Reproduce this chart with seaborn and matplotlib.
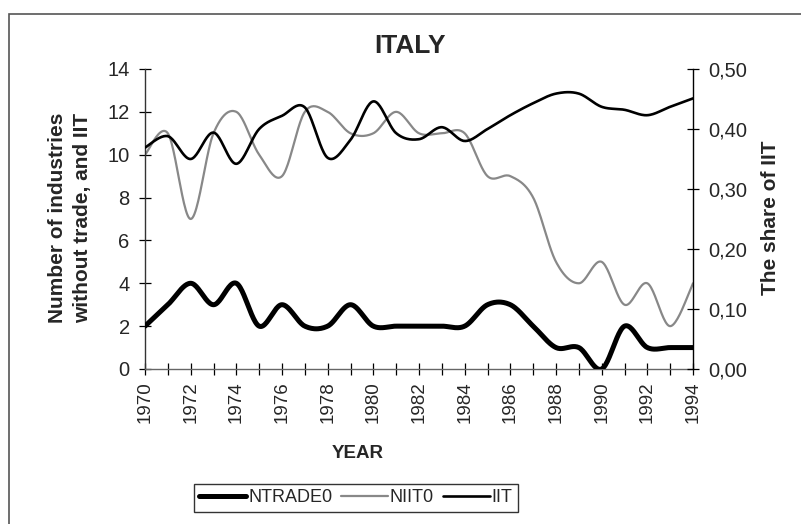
import numpy as np
import pandas as pd
import matplotlib
matplotlib.use("Agg")
import matplotlib.pyplot as plt
import seaborn as sns
from matplotlib.lines import Line2D
from matplotlib.patches import Rectangle
from matplotlib.ticker import FuncFormatter, MultipleLocator

years = list(range(1970, 1995))
ntrade0 = [2, 3, 4, 3, 4, 2, 3, 2, 2, 3, 2, 2, 2, 2, 2, 3, 3, 2, 1, 1, 0, 2, 1, 1, 1]
niit0 = [10, 11, 7, 11, 12, 10, 9, 12, 12, 11, 11, 12, 11, 11, 11, 9, 9, 8, 5, 4, 5, 3, 4, 2, 4]
iit = [0.369, 0.388, 0.350, 0.394, 0.342, 0.400, 0.422, 0.436, 0.352, 0.382, 0.446,
       0.393, 0.383, 0.403, 0.380, 0.400, 0.423, 0.443, 0.459, 0.459, 0.437, 0.432,
       0.423, 0.437, 0.451]
left_label = "Number of industries\nwithout trade, and IIT"
right_label = "The share of IIT"
x_label = "YEAR"
title = "ITALY"


def smooth(xs, ys, steps=24):
    """Excel-like smoothed line: Catmull-Rom cubic Bezier through the data points."""
    x = np.asarray(xs, float)
    y = np.asarray(ys, float)
    px = np.concatenate([[x[0]], x, [x[-1]]])
    py = np.concatenate([[y[0]], y, [y[-1]]])
    ox, oy = [], []
    t = np.linspace(0, 1, steps, endpoint=False)
    for i in range(1, len(px) - 2):
        p0 = np.array([px[i], py[i]])
        p3 = np.array([px[i + 1], py[i + 1]])
        c1 = p0 + (np.array([px[i + 1], py[i + 1]]) - np.array([px[i - 1], py[i - 1]])) / 6
        c2 = p3 - (np.array([px[i + 2], py[i + 2]]) - np.array([px[i], py[i]])) / 6
        b = ((1 - t) ** 3)[:, None] * p0 + (3 * (1 - t) ** 2 * t)[:, None] * c1 \
            + (3 * (1 - t) * t ** 2)[:, None] * c2 + (t ** 3)[:, None] * p3
        ox.extend(b[:, 0]); oy.extend(b[:, 1])
    ox.append(x[-1]); oy.append(y[-1])
    return pd.DataFrame({"x": ox, "y": oy})


sns.set_style("white")
plt.rcParams["font.family"] = ["Liberation Sans", "DejaVu Sans"]

fig = plt.figure(figsize=(8.01, 5.24), dpi=100)
ax = fig.add_axes([145 / 801, 1 - 369 / 524, (693 - 145) / 801, (369 - 69) / 524])
ax2 = ax.twinx()

c_ntrade, c_niit, c_iit = "#000000", "#888888", "#000000"
w_ntrade, w_niit, w_iit = 3.6, 1.6, 1.9

d1 = smooth(years, ntrade0)
d2 = smooth(years, niit0)
d3 = smooth(years, iit)
sns.lineplot(data=d2, x="x", y="y", ax=ax, sort=False, estimator=None,
             color=c_niit, linewidth=w_niit, zorder=2)
sns.lineplot(data=d1, x="x", y="y", ax=ax, sort=False, estimator=None,
             color=c_ntrade, linewidth=w_ntrade, zorder=3)
sns.lineplot(data=d3, x="x", y="y", ax=ax2, sort=False, estimator=None,
             color=c_iit, linewidth=w_iit, zorder=3)

ax.set_xlim(1970, 1994)
ax.set_ylim(0, 14)
ax2.set_ylim(0, 0.5)
ax.yaxis.set_major_locator(MultipleLocator(2))
ax2.yaxis.set_major_locator(MultipleLocator(0.1))
ax2.yaxis.set_major_formatter(FuncFormatter(lambda v, p: f"{v:.2f}".replace(".", ",")))
ax.set_xticks(years)
ax.set_xticklabels([str(yv) if (yv - 1970) % 2 == 0 else "" for yv in years],
                   rotation=90)

for a in (ax, ax2):
    a.set_xlabel("")
    a.set_ylabel("")
    for s in a.spines.values():
        s.set_visible(False)
ax.spines["left"].set_visible(True)
ax.spines["bottom"].set_visible(True)
ax2.spines["right"].set_visible(True)
ax.spines["left"].set_color("#333333")
ax.spines["bottom"].set_color("#666666")
ax2.spines["right"].set_color("#000000")
for s in (ax.spines["left"], ax.spines["bottom"], ax2.spines["right"]):
    s.set_linewidth(1.0)

ax.tick_params(axis="y", direction="inout", length=8, width=0.9, color="black",
               labelsize=14.5, pad=7, left=True)
ax.tick_params(axis="x", direction="inout", length=8, width=0.9, color="black",
               labelsize=13.5, pad=5, bottom=True)
ax2.tick_params(axis="y", direction="inout", length=8, width=0.9, color="black",
                labelsize=14.5, pad=7, right=True)

ax.set_facecolor("none")
fig.patch.set_facecolor("white")

fig.text(70 / 801, 1 - 218 / 524, left_label, rotation=90, ha="center", va="center",
         fontsize=15, fontweight="bold", linespacing=1.4)
fig.text(770 / 801, 1 - 218 / 524, right_label, rotation=90, ha="center", va="center",
         fontsize=15, fontweight="bold")
fig.text(410 / 801, 1 - 46 / 524, title, ha="center", va="center",
         fontsize=19, fontweight="bold")
fig.text(358 / 801, 1 - 453 / 524, x_label, ha="center", va="center",
         fontsize=13.5, fontweight="bold")

handles = [Line2D([], [], color=c_ntrade, linewidth=w_ntrade),
           Line2D([], [], color=c_niit, linewidth=w_niit),
           Line2D([], [], color=c_iit, linewidth=w_iit)]
leg = fig.legend(handles, ["NTRADE0", "NIIT0", "IIT"], loc="center",
                 bbox_to_anchor=(356 / 801, 1 - 498 / 524), ncol=3, frameon=True,
                 fontsize=13, handlelength=2.6, handletextpad=0.1, columnspacing=0.5,
                 borderpad=0.3, fancybox=False, borderaxespad=0)
leg.get_frame().set_edgecolor("black")
leg.get_frame().set_linewidth(1.0)

fig.patches.append(Rectangle((9 / 801, -0.05), 1.2, 1 - 14 / 524 + 0.05,
                             transform=fig.transFigure, fill=False,
                             edgecolor="#555555", linewidth=1.2, zorder=0))

fig.savefig("out.png", dpi=100, facecolor="white")
